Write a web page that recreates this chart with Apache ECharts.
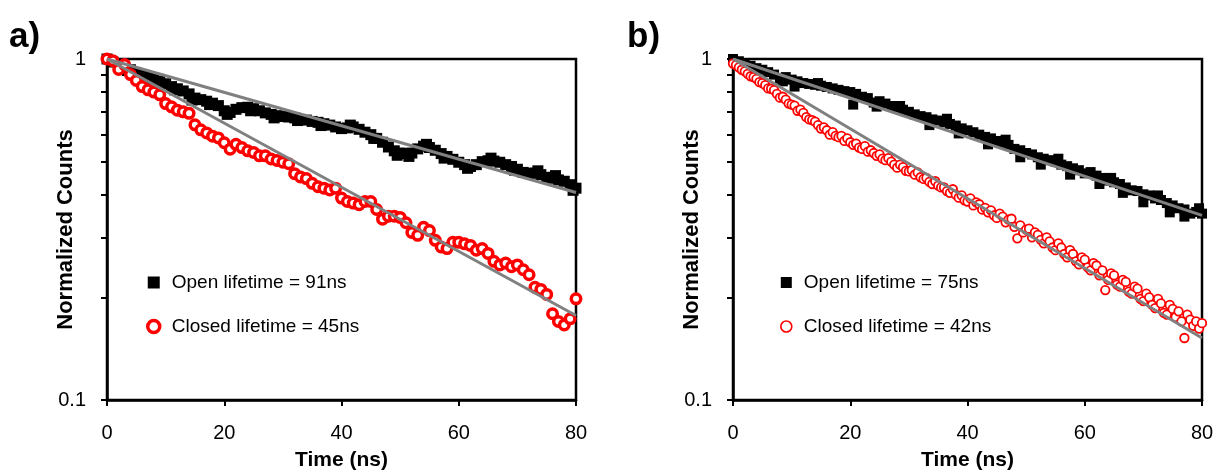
<!DOCTYPE html>
<html>
<head>
<meta charset="utf-8">
<script src="https://cdn.jsdelivr.net/npm/echarts@6/dist/echarts.min.js"></script>
<style>
html,body{margin:0;padding:0;background:#fff;}
#chart{width:1221px;height:476px;}
</style>
</head>
<body>
<div id="chart"></div>
<script>
// ---- Data ----
const xTicks = [0, 20, 40, 60, 80];
const yTickValues = [0.1, 0.2, 0.3, 0.4, 0.5, 0.6, 0.7, 0.8, 0.9, 1];
const yLabelValues = [0.1, 1];

// Panel a) open (black squares), t = 0..80 ns step 1
const openA = [1.0, 0.98, 0.96, 0.945, 0.93, 0.912, 0.90, 0.888, 0.872, 0.86,
  0.846, 0.83, 0.818, 0.806, 0.79, 0.768, 0.760, 0.752, 0.742, 0.73,
  0.705, 0.697, 0.712, 0.72, 0.722, 0.715, 0.705, 0.695, 0.688, 0.682,
  0.678, 0.676, 0.672, 0.665, 0.662, 0.656, 0.652, 0.646, 0.640, 0.632,
  0.625, 0.628, 0.632, 0.622, 0.610, 0.600, 0.585, 0.570, 0.552, 0.538,
  0.530, 0.528, 0.530, 0.545, 0.555, 0.550, 0.540, 0.528, 0.518, 0.508,
  0.498, 0.490, 0.484, 0.490, 0.500, 0.503, 0.502, 0.498, 0.490, 0.484,
  0.475, 0.465, 0.462, 0.463, 0.458, 0.450, 0.447, 0.442, 0.438, 0.428, 0.418];
// Panel a) open, in-between points that thicken the band [t, value]
const openAExtra = [[3.5, 0.925], [7.5, 0.868], [11.5, 0.812], [14.5, 0.758], [17.5, 0.735],
  [20.5, 0.688], [24.5, 0.705], [28.5, 0.672], [32.5, 0.660], [36.5, 0.638],
  [41.5, 0.640], [45.5, 0.585], [49.5, 0.522], [51.5, 0.518], [54.5, 0.562],
  [57.5, 0.512], [61.5, 0.478], [65.5, 0.512], [69.5, 0.472], [73.5, 0.470],
  [76.5, 0.455], [79.5, 0.412]];

// Panel a) closed (red circles), t = 0..80 ns step 1
const closedA = [1.0, 0.989, 0.932, 0.963, 0.90, 0.865, 0.83, 0.812, 0.80, 0.785,
  0.740, 0.724, 0.708, 0.700, 0.693, 0.641, 0.620, 0.607, 0.594, 0.587,
  0.568, 0.544, 0.562, 0.550, 0.538, 0.532, 0.520, 0.520, 0.509, 0.504,
  0.498, 0.493, 0.461, 0.451, 0.446, 0.432, 0.422, 0.418, 0.413, 0.418,
  0.391, 0.382, 0.378, 0.374, 0.382, 0.382, 0.362, 0.339, 0.346, 0.346,
  0.343, 0.331, 0.310, 0.304, 0.321, 0.314, 0.294, 0.281, 0.278, 0.290,
  0.290, 0.287, 0.284, 0.275, 0.278, 0.269, 0.255, 0.249, 0.252, 0.246,
  0.249, 0.241, 0.233, 0.214, 0.211, 0.204, 0.179, 0.170, 0.166, 0.173, 0.198];

// Panel b) open (black squares), t = 0..80 ns step 1
const openB = [1.0, 0.985, 0.97, 0.955, 0.94, 0.93, 0.915, 0.90, 0.875, 0.885,
  0.87, 0.86, 0.85, 0.845, 0.84, 0.835, 0.828, 0.82, 0.812, 0.805,
  0.80, 0.79, 0.775, 0.768, 0.745, 0.752, 0.74, 0.728, 0.72, 0.71,
  0.70, 0.688, 0.68, 0.675, 0.665, 0.66, 0.652, 0.645, 0.638, 0.626,
  0.618, 0.61, 0.60, 0.591, 0.585, 0.575, 0.568, 0.56, 0.545, 0.54,
  0.53, 0.525, 0.515, 0.51, 0.505, 0.50, 0.49, 0.485, 0.478, 0.472,
  0.462, 0.466, 0.455, 0.448, 0.44, 0.435, 0.43, 0.42, 0.412, 0.41,
  0.401, 0.398, 0.39, 0.386, 0.378, 0.372, 0.365, 0.362, 0.352, 0.356, 0.352];
// Panel b) open, extra points [t, value]
const openBExtra = [[8.5, 0.86], [10.5, 0.83], [14.5, 0.85], [20.5, 0.735], [24.5, 0.725],
  [28.5, 0.728], [33.5, 0.64], [36.5, 0.668], [38.5, 0.605], [43.5, 0.562],
  [46.5, 0.58], [49, 0.515], [52.5, 0.49], [55.5, 0.51], [57.5, 0.458],
  [62.5, 0.43], [64.5, 0.448], [66.5, 0.405], [70, 0.38], [72.5, 0.398],
  [74.5, 0.355], [77, 0.345], [79.5, 0.365]];

// Panel b) closed (red circles), t = 0..80 ns step 0.5
const closedB = [0.97, 0.96, 0.945, 0.93, 0.92, 0.905, 0.89, 0.885, 0.875, 0.855,
  0.85, 0.838, 0.82, 0.818, 0.81, 0.79, 0.77, 0.775, 0.76, 0.74,
  0.735, 0.73, 0.705, 0.71, 0.695, 0.675, 0.665, 0.662, 0.655, 0.64,
  0.625, 0.63, 0.618, 0.60, 0.61, 0.595, 0.59, 0.595, 0.575, 0.585,
  0.57, 0.56, 0.565, 0.55, 0.545, 0.555, 0.535, 0.54, 0.53, 0.52,
  0.525, 0.51, 0.505, 0.512, 0.50, 0.49, 0.48, 0.49, 0.482, 0.47,
  0.468, 0.472, 0.458, 0.465, 0.45, 0.445, 0.448, 0.436, 0.43, 0.438,
  0.425, 0.42, 0.42, 0.41, 0.405, 0.415, 0.40, 0.392, 0.398, 0.385,
  0.382, 0.39, 0.372, 0.38, 0.375, 0.362, 0.366, 0.355, 0.36, 0.348,
  0.342, 0.352, 0.345, 0.332, 0.338, 0.34, 0.322, 0.298, 0.325, 0.31,
  0.316, 0.318, 0.30, 0.31, 0.305, 0.295, 0.288, 0.30, 0.292, 0.28,
  0.275, 0.288, 0.28, 0.268, 0.262, 0.275, 0.268, 0.255, 0.25, 0.262,
  0.258, 0.245, 0.24, 0.252, 0.248, 0.232, 0.24, 0.21, 0.225, 0.235,
  0.232, 0.218, 0.215, 0.225, 0.222, 0.208, 0.205, 0.215, 0.212, 0.198,
  0.195, 0.205, 0.20, 0.19, 0.186, 0.198, 0.192, 0.18, 0.178, 0.19,
  0.185, 0.175, 0.182, 0.17, 0.152, 0.178, 0.172, 0.165, 0.17, 0.162, 0.168];

// Single-exponential fits (straight on log axis): [t, value] end points
const fitOpenA = [[0, 1], [80, 0.406]];
const fitClosedA = [[0, 1], [80, 0.177]];
const fitOpenB = [[0, 1], [80, 0.348]];
const fitClosedB = [[0, 1], [80, 0.152]];

const names = {
  openA: 'Open lifetime = 91ns', closedA: 'Closed lifetime = 45ns',
  openB: 'Open lifetime = 75ns', closedB: 'Closed lifetime = 42ns'
};

// ---- build ----
const FONT = 'Liberation Sans, Arial, Helvetica, sans-serif';
const pairs = (arr, step) => arr.map((v, i) => [i * step, v]);

function xAxis(gi) {
  return {
    type: 'value', gridIndex: gi, min: 0, max: 80, interval: 20,
    axisLine: { show: true, onZero: false, lineStyle: { color: '#000', width: 2.5 } },
    axisTick: { show: true, inside: false, length: 6, lineStyle: { color: '#000', width: 2 } },
    axisLabel: { color: '#000', fontSize: 20, fontFamily: FONT, margin: 23 },
    splitLine: { show: false },
    name: 'Time (ns)', nameLocation: 'middle', nameGap: 50, nameMoveOverlap: false,
    nameTextStyle: { color: '#000', fontSize: 21, fontWeight: 'bold', fontFamily: FONT }
  };
}
function yAxis(gi) {
  return {
    type: 'log', logBase: 10, gridIndex: gi, min: 0.1, max: 1,
    axisLine: { show: true, onZero: false, lineStyle: { color: '#000', width: 2.5 } },
    axisTick: { show: true, inside: false, length: 6, lineStyle: { color: '#000', width: 2 }, customValues: yTickValues },
    axisLabel: {
      color: '#000', fontSize: 20, fontFamily: FONT, margin: 21, customValues: yLabelValues,
      formatter: v => (Math.abs(v - 1) < 1e-6 ? '1' : '0.1')
    },
    splitLine: { show: false },
    name: 'Normalized Counts', nameLocation: 'middle', nameGap: 30, nameMoveOverlap: false,
    nameTextStyle: { color: '#000', fontSize: 22, fontWeight: 'bold', fontFamily: FONT }
  };
}
function scatterSeries(name, data, gi, kind, big) {
  const s = {
    type: 'scatter', name: name, data: data, xAxisIndex: gi, yAxisIndex: gi, silent: true,
    animation: false
  };
  if (kind === 'sq') {
    s.symbol = 'rect'; s.symbolSize = big ? 11 : 10; s.z = 2;
    s.itemStyle = { color: '#000', opacity: 1 };
  } else {
    s.symbol = 'circle'; s.symbolSize = big ? 9.5 : 8.5; s.z = 3;
    s.itemStyle = { color: '#fff', borderColor: '#ff0000', borderWidth: big ? 3.5 : 1.8, opacity: 1 };
  }
  return s;
}
function fitSeries(data, gi) {
  return {
    type: 'line', data: data, xAxisIndex: gi, yAxisIndex: gi, symbol: 'none', silent: true,
    lineStyle: { color: '#808080', width: 3 }, z: 5, animation: false
  };
}
function legend(left, openName, closedName, bw, sz) {
  return {
    data: [
      { name: openName, icon: 'rect', itemStyle: { color: '#000', opacity: 1 } },
      { name: closedName, icon: 'circle', itemStyle: { color: '#fff', borderColor: '#ff0000', borderWidth: bw, opacity: 1 } }
    ],
    orient: 'vertical', left: left, top: 273, padding: 0,
    itemWidth: sz, itemHeight: sz, itemGap: 25, selectedMode: false,
    textStyle: { color: '#000', fontSize: 19, fontFamily: FONT, padding: [0, 0, 0, 7] }
  };
}

const option = {
  animation: false,
  backgroundColor: '#fff',
  title: [
    { text: 'a)', left: 9, top: 20, padding: 0, textStyle: { fontSize: 35, fontWeight: 'bold', color: '#000', fontFamily: FONT } },
    { text: 'b)', left: 627, top: 20, padding: 0, textStyle: { fontSize: 35, fontWeight: 'bold', color: '#000', fontFamily: FONT } }
  ],
  grid: [
    { left: 107, right: 645, top: 59, bottom: 70, show: true, borderColor: '#000', borderWidth: 2.5, backgroundColor: 'transparent' },
    { left: 733, right: 19, top: 59, bottom: 70, show: true, borderColor: '#000', borderWidth: 2.5, backgroundColor: 'transparent' }
  ],
  xAxis: [xAxis(0), xAxis(1)],
  yAxis: [yAxis(0), yAxis(1)],
  legend: [
    legend(146, names.openA, names.closedA, 3.5, 12),
    legend(780, names.openB, names.closedB, 1.6, 11)
  ],
  series: [
    scatterSeries(names.openA, pairs(openA, 1).concat(openAExtra), 0, 'sq', true),
    scatterSeries(names.closedA, pairs(closedA, 1), 0, 'circ', true),
    fitSeries(fitOpenA, 0),
    fitSeries(fitClosedA, 0),
    scatterSeries(names.openB, pairs(openB, 1).concat(openBExtra), 1, 'sq', false),
    scatterSeries(names.closedB, pairs(closedB, 0.5), 1, 'circ', false),
    fitSeries(fitOpenB, 1),
    fitSeries(fitClosedB, 1)
  ]
};

const chart = echarts.init(document.getElementById('chart'), null, { renderer: 'canvas' });
chart.setOption(option);
</script>
</body>
</html>
